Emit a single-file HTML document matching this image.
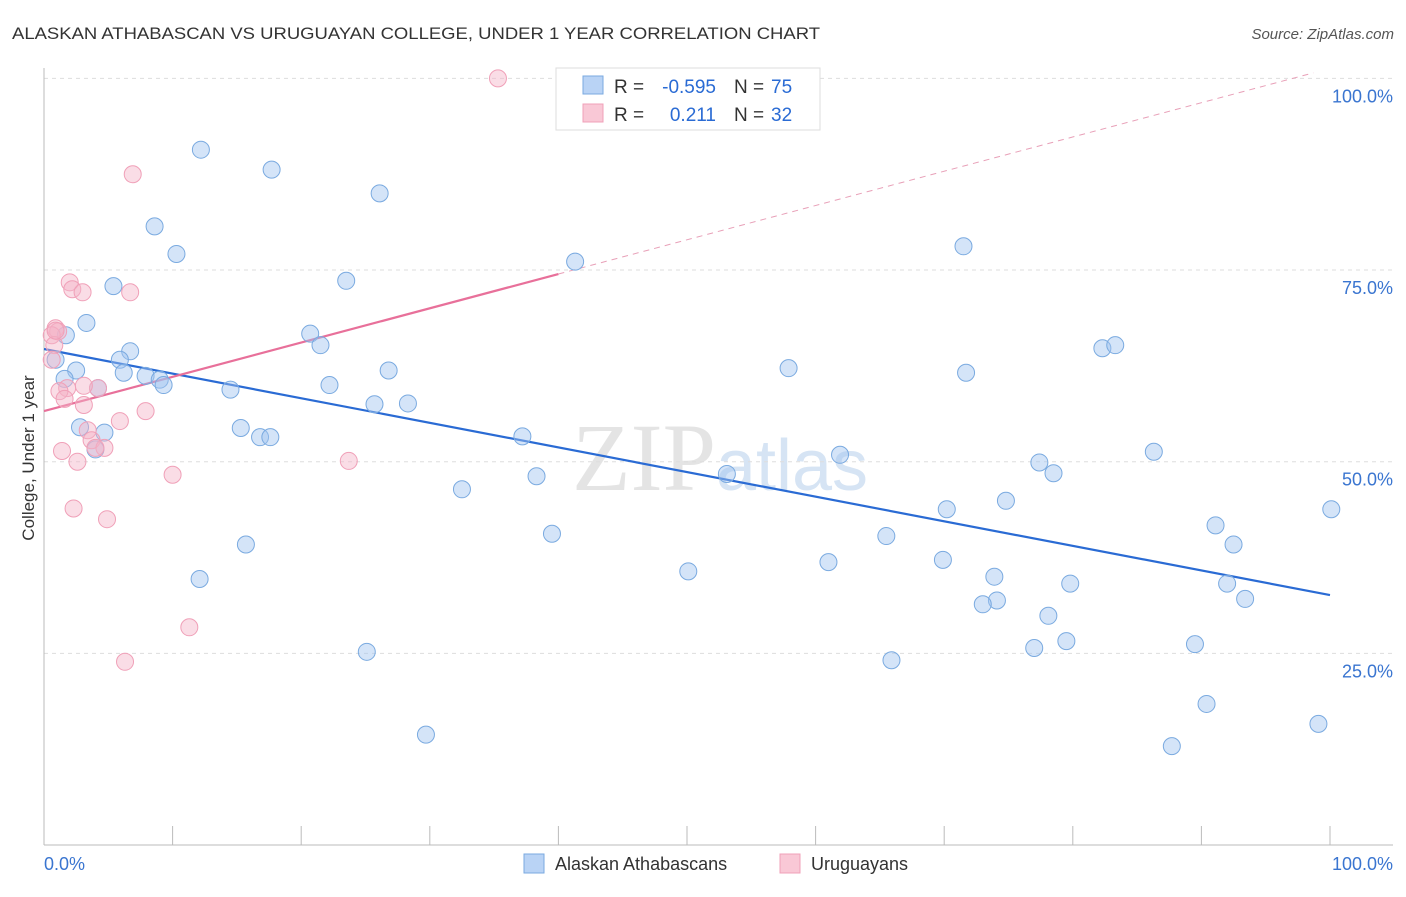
<!DOCTYPE html>
<html><head><meta charset="utf-8"><style>
body{margin:0;background:#fff;font-family:"Liberation Sans",sans-serif;}
</style></head><body>
<svg id="chart" width="1406" height="892" xmlns="http://www.w3.org/2000/svg" font-family="Liberation Sans, sans-serif">
<text x="12" y="39" font-size="17" fill="#333" textLength="808" lengthAdjust="spacingAndGlyphs">ALASKAN ATHABASCAN VS URUGUAYAN COLLEGE, UNDER 1 YEAR CORRELATION CHART</text>
<text x="1394" y="39" font-size="15" fill="#555" font-style="italic" text-anchor="end">Source: ZipAtlas.com</text>
<text x="720" y="490" font-size="96" fill="#e4e4e4" text-anchor="middle" font-family="Liberation Serif, serif">ZIP<tspan fill="#d6e4f4" font-family="Liberation Sans, sans-serif" font-size="72">atlas</tspan></text>
<g id="grid"></g>
<g id="axes"></g>
<g id="lines"></g>
<g id="pts"></g>
<text transform="translate(34,458) rotate(-90)" font-size="17" fill="#333" text-anchor="middle">College, Under 1 year</text>
<g>
<rect x="556" y="68" width="264" height="62" fill="#fff" stroke="#ddd"/>
<rect x="583" y="76" width="20" height="18" fill="#b9d3f5" stroke="#7aaae0"/>
<rect x="583" y="104" width="20" height="18" fill="#f9c8d6" stroke="#f0a0b8"/>
<text x="614" y="93" font-size="19" fill="#333">R =</text>
<text x="716" y="93" font-size="19" fill="#2a6bd4" text-anchor="end">-0.595</text>
<text x="734" y="93" font-size="19" fill="#333">N =</text>
<text x="771" y="93" font-size="19" fill="#2a6bd4">75</text>
<text x="614" y="121" font-size="19" fill="#333">R =</text>
<text x="716" y="121" font-size="19" fill="#2a6bd4" text-anchor="end">0.211</text>
<text x="734" y="121" font-size="19" fill="#333">N =</text>
<text x="771" y="121" font-size="19" fill="#2a6bd4">32</text>
</g>
<g>
<rect x="524" y="854" width="20" height="19" fill="#b9d3f5" stroke="#7aaae0"/>
<text x="555" y="870" font-size="18" fill="#333">Alaskan Athabascans</text>
<rect x="780" y="854" width="20" height="19" fill="#f9c8d6" stroke="#f0a0b8"/>
<text x="811" y="870" font-size="18" fill="#333">Uruguayans</text>
</g>
</svg>
<script>
const yTicks=[25,50,75,100];
const xTickLabels=["0.0%","100.0%"];
const blueX=[12.2,17.7,26.1,8.6,10.3,71.5,41.3,23.5,5.4,3.3,1.7,20.7,21.5,0.9,6.7,5.9,6.2,2.5,1.6,7.9,9.0,9.3,82.3,83.3,57.9,71.7,26.8,22.2,14.5,4.2,25.7,28.3,2.8,4.7,4.0,15.3,16.8,17.6,37.2,61.9,86.3,53.1,38.3,77.4,78.5,32.5,74.8,70.2,100.1,91.1,39.5,65.5,15.7,92.5,69.9,61.0,50.1,12.1,73.9,79.8,92.0,93.4,74.1,73.0,78.1,25.1,79.5,77.0,89.5,65.9,90.4,29.7,99.1,87.7];
const blueY=[90.7,88.1,85.0,80.7,77.1,78.1,76.1,73.6,72.9,68.1,66.5,66.7,65.2,63.3,64.4,63.3,61.6,61.9,60.8,61.2,60.7,60.0,64.8,65.2,62.2,61.6,61.9,60.0,59.4,59.6,57.5,57.6,54.5,53.8,51.6,54.4,53.2,53.2,53.3,50.9,51.3,48.4,48.1,49.9,48.5,46.4,44.9,43.8,43.8,41.7,40.6,40.3,39.2,39.2,37.2,36.9,35.7,34.7,35.0,34.1,34.1,32.1,31.9,31.4,29.9,25.2,26.6,25.7,26.2,24.1,18.4,14.4,15.8,12.9];
const pinkX=[35.3,6.9,2.0,2.2,3.0,6.7,0.9,1.1,0.6,0.8,0.6,1.8,1.2,1.6,4.2,3.1,3.1,7.9,5.9,3.4,3.7,4.7,1.4,2.6,23.7,10.0,2.3,4.9,11.3,6.3,0.9,4.0];
const pinkY=[100,87.5,73.4,72.5,72.1,72.1,67.4,67.0,66.5,65.2,63.3,59.6,59.2,58.2,59.6,59.9,57.4,56.6,55.3,54.1,52.8,51.8,51.4,50.0,50.1,48.3,43.9,42.5,28.4,23.9,67.1,51.8];
const blueFit=[64.7,32.6];
const pinkFit=[56.6,0.447];
const NS="http://www.w3.org/2000/svg";
const X=v=>44+v*12.86, Y=v=>845-v*7.666;
function mk(tag,attrs,parent){const e=document.createElementNS(NS,tag);for(const k in attrs)e.setAttribute(k,attrs[k]);document.getElementById(parent).appendChild(e);return e;}
yTicks.forEach(t=>{
 const l=mk('line',{x1:44,x2:1393,y1:Y(t),y2:Y(t),stroke:'#ddd','stroke-dasharray':'4,4'},'grid');
 
 
 const tx=mk('text',{x:1393,y:Y(t)+24,'font-size':18,fill:'#3a75d0','text-anchor':'end'},'grid');tx.textContent=t.toFixed(1)+'%';
 
 
});
mk('line',{x1:44,x2:44,y1:68,y2:845,stroke:'#bbb'},'axes');
mk('line',{x1:44,x2:1393,y1:845,y2:845,stroke:'#bbb'},'axes');
for(let i=0;i<=10;i++){const t=mk('line',{x1:X(i*10),x2:X(i*10),y1:826,y2:845,stroke:'#bbb'},'axes');}
[[0,'start',44],[100,'end',1393]].forEach((d,i)=>{const t=mk('text',{x:d[2],y:870,'font-size':18,fill:'#3a75d0','text-anchor':d[1]},'axes');t.textContent=xTickLabels[i];});
let bl=mk('line',{x1:X(0),y1:Y(blueFit[0]),x2:X(100),y2:Y(blueFit[1]),stroke:'#2a6bd4','stroke-width':2.2},'lines');


const pf=x=>pinkFit[0]+pinkFit[1]*x;
let pl=mk('line',{x1:X(0),y1:Y(pf(0)),x2:X(40),y2:Y(pf(40)),stroke:'#e8709a','stroke-width':2.2},'lines');


let pd=mk('line',{x1:X(40),y1:Y(pf(40)),x2:X(98.7),y2:Y(pf(98.7)),stroke:'#e8a0b8','stroke-width':1,'stroke-dasharray':'6,5'},'lines');


blueX.forEach((x,i)=>{const c=mk('circle',{cx:X(x),cy:Y(blueY[i]),r:8.5,fill:'rgba(160,195,240,0.45)',stroke:'#7aaae0','stroke-width':1},'pts');
 
 });
pinkX.forEach((x,i)=>{const c=mk('circle',{cx:X(x),cy:Y(pinkY[i]),r:8.5,fill:'rgba(245,180,200,0.45)',stroke:'#f0a0b8','stroke-width':1},'pts');
 
 });
</script>
</body></html>
